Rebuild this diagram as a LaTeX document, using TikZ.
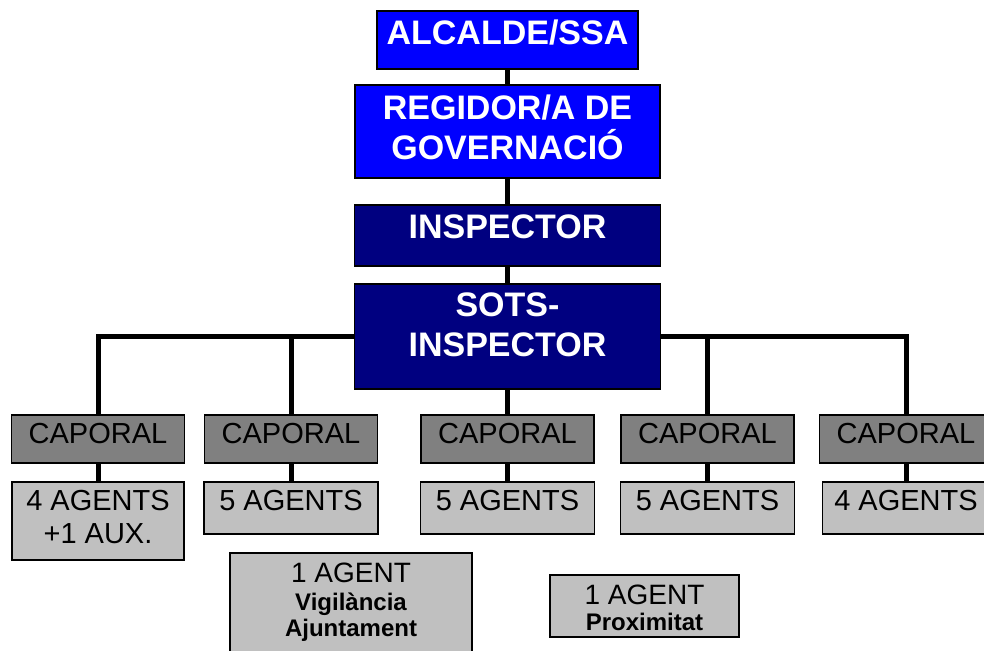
\documentclass[tikz,border=0pt]{standalone}
\usepackage{fontspec}
\setmainfont{Liberation Sans}
\usetikzlibrary{positioning}
\definecolor{alcblue}{RGB}{0,0,255}
\definecolor{navyblue}{RGB}{0,0,128}
\definecolor{capgray}{RGB}{128,128,128}
\definecolor{aggray}{RGB}{192,192,192}
\newcommand\subline[1]{{\bfseries\fontsize{24}{26}\selectfont #1}}
\begin{document}
\begin{tikzpicture}[x=1pt,y=-1pt,
  box/.style={draw=black,line width=1.5pt,inner sep=0pt},
  bluebox/.style={box,fill=alcblue},
  navybox/.style={box,fill=navyblue},
  capbox/.style={box,fill=capgray,minimum width=173pt,minimum height=48pt},
  agbox/.style={box,fill=aggray,minimum height=52pt},
  toptext/.style={text=white,font=\bfseries\fontsize{34}{40}\selectfont,align=center,inner sep=0pt},
  captext/.style={font=\fontsize{29}{33}\selectfont,align=center,inner sep=0pt},
  link/.style={line width=5pt}]
\useasboundingbox (0,0) rectangle (984,650);
\clip (0,0) rectangle (984,650);
%\draw[help lines] (0,0) grid[step=50] (984,650);
% top of the chart
\node[bluebox,minimum width=261pt,minimum height=58pt] (alc) at (507.5,40) {};
\node[toptext,below=9pt of alc.north] (talc) {ALCALDE/SSA};
\node[bluebox,minimum width=305pt,minimum height=93pt] (reg) at (507.5,131.5) {};
\node[toptext,below=10pt of reg.north] (treg) {REGIDOR/A DE\\GOVERNACIÓ};
\node[navybox,minimum width=306pt,minimum height=61pt] (insp) at (507.5,235.5) {};
\node[toptext,below=10pt of insp.north] (tinsp) {INSPECTOR};
\node[navybox,minimum width=306pt,minimum height=105pt] (sots) at (507.5,336.5) {};
\node[toptext,below=9pt of sots.north] (tsots) {SOTS-\\INSPECTOR};
\draw[link] (alc) -- (reg);
\draw[link] (reg) -- (insp);
\draw[link] (insp) -- (sots);
% caporals and agents
\foreach \n/\x in {1/98,2/291,3/507.5,4/707.5,5/906}{
  \node[capbox] (cap\n) at (\x,439) {};
  \node[captext,below=9pt of cap\n.north] (tcap\n) {CAPORAL};
}
\node[agbox,minimum width=172pt,minimum height=78pt] (ag1) at (98,521) {};
\node[captext,below=9pt of ag1.north] (tag1) {4 AGENTS\\+1 AUX.};
\foreach \n/\x in {2/291,3/507.5,4/707.5}{
  \node[agbox,minimum width=174pt] (ag\n) at (\x,508) {};
  \node[captext,below=9pt of ag\n.north] (tag\n) {5 AGENTS};
}
\node[agbox,minimum width=167pt] (ag5) at (906,508) {};
\node[captext,below=9pt of ag5.north] (tag5) {4 AGENTS};
\draw[link] (sots) -- (cap3);
\draw[link] (sots.west) -| (cap1.north);
\draw[link] (sots.east) -| (cap5.north);
\draw[link] (cap2.north) -- (cap2.north |- sots.west);
\draw[link] (cap4.north) -- (cap4.north |- sots.east);
\foreach \n in {1,...,5}
  \draw[link] (cap\n) -- (ag\n);
% loose agents
\node[agbox,minimum width=242pt,minimum height=112pt] (vig) at (351,609) {};
\node[captext,font=\fontsize{28}{26}\selectfont,below=10pt of vig.north] (tvig)
  {1 AGENT\\[2pt]\subline{Vigilància}\\\subline{Ajuntament}};
\node[agbox,minimum width=189pt,minimum height=62pt] (prox) at (644.5,606) {};
\node[captext,font=\fontsize{28}{26}\selectfont,below=10pt of prox.north] (tprox)
  {1 AGENT\\\subline{Proximitat}};
\end{tikzpicture}
\end{document}
